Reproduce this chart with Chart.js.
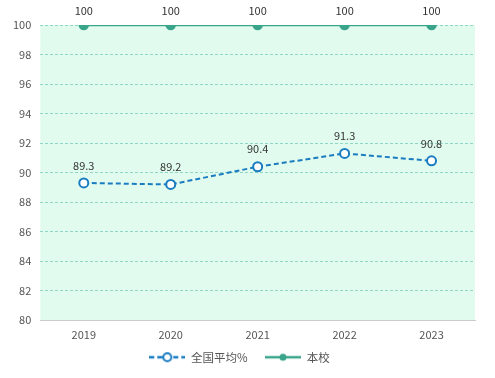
<!DOCTYPE html>
<html>
<head>
<meta charset="utf-8">
<script src="https://cdn.jsdelivr.net/npm/chart.js@4"></script>
<style>
  html, body { margin: 0; padding: 0; background: #fff; }
  #wrap { width: 495px; height: 378px; }
</style>
</head>
<body>
<div id="wrap"><canvas id="scoreChart" width="495" height="378"></canvas></div>
<script>
const years = ['2019', '2020', '2021', '2022', '2023'];
const nationalAvg = [89.3, 89.2, 90.4, 91.3, 90.8];
const school = [100, 100, 100, 100, 100];
const yTicks = [80, 82, 84, 86, 88, 90, 92, 94, 96, 98, 100];

const blue = '#1a7cc1';
const green = '#3aa58b';
const fontFamily = '"Noto Sans CJK SC", "Microsoft YaHei", sans-serif';

// legend icons: line with a point in the middle
function legendIcon(color, dashed, hollow) {
    const c = document.createElement('canvas');
    c.width = 36; c.height = 12;
    const g = c.getContext('2d');
    g.strokeStyle = color;
    g.lineWidth = 2.5;
    if (dashed) g.setLineDash([5, 3]);
    g.beginPath();
    g.moveTo(0, 6); g.lineTo(36, 6);
    g.stroke();
    g.setLineDash([]);
    g.beginPath();
    g.arc(18, 6, hollow ? 4 : 3.5, 0, Math.PI * 2);
    g.fillStyle = hollow ? '#fff' : color;
    g.fill();
    if (hollow) { g.lineWidth = 2; g.stroke(); }
    return c;
}

const areaBg = {
    id: 'areaBg',
    beforeDraw(chart) {
        const { ctx, chartArea: a } = chart;
        ctx.save();
        ctx.fillStyle = '#e1fcef';
        ctx.fillRect(a.left, a.top, a.right - a.left, a.bottom - a.top);
        ctx.restore();
    }
};

const labelGap = [12, 9];
const valueLabels = {
    id: 'valueLabels',
    afterDatasetsDraw(chart) {
        const ctx = chart.ctx;
        ctx.save();
        ctx.font = '11px ' + fontFamily;
        ctx.fillStyle = '#333';
        ctx.textAlign = 'center';
        ctx.textBaseline = 'bottom';
        chart.data.datasets.forEach((ds, i) => {
            chart.getDatasetMeta(i).data.forEach((pt, j) => {
                ctx.fillText(String(ds.data[j]), pt.x, pt.y - labelGap[i]);
            });
        });
        ctx.restore();
    }
};

new Chart(document.getElementById('scoreChart').getContext('2d'), {
    type: 'line',
    data: {
        labels: years,
        datasets: [{
            label: '全国平均%',
            data: nationalAvg,
            borderColor: blue,
            backgroundColor: '#fff',
            borderWidth: 2,
            borderDash: [5, 3],
            pointRadius: 4.5,
            pointBorderWidth: 2,
            pointBorderColor: blue,
            pointBackgroundColor: '#fff'
        }, {
            label: '本校',
            data: school,
            borderColor: green,
            backgroundColor: green,
            borderWidth: 2.5,
            pointRadius: 4,
            pointBackgroundColor: green,
            pointBorderColor: green
        }]
    },
    options: {
        responsive: false,
        animation: false,
        layout: { padding: { top: 25, right: 20, left: 4, bottom: 5 } },
        scales: {
            x: {
                offset: true,
                afterFit(axis) { axis.height += 3; },
                grid: { display: false },
                border: { display: true, color: '#cccccc', width: 1 },
                ticks: { color: '#555', font: { family: fontFamily, size: 11 }, padding: 0 }
            },
            y: {
                min: 80,
                max: 100,
                afterBuildTicks(axis) { axis.ticks = yTicks.map(v => ({ value: v })); },
                grid: {
                    color: ctx => ctx.tick && ctx.tick.value === 80 ? 'rgba(0,0,0,0)' : '#8fd6c4',
                    lineWidth: 1,
                    drawTicks: false
                },
                border: { display: false, dash: [3, 2] },
                ticks: { color: '#555', font: { family: fontFamily, size: 11 }, padding: 9 }
            }
        },
        plugins: {
            legend: {
                position: 'bottom',
                labels: {
                    usePointStyle: true,
                    pointStyleWidth: 36,
                    boxHeight: 12,
                    color: '#555',
                    font: { family: fontFamily, size: 11.5 },
                    padding: 7,
                    generateLabels(chart) {
                        return [
                            { text: '全国平均%    ', pointStyle: legendIcon(blue, true, true), datasetIndex: 0, fontColor: '#555' },
                            { text: '本校', pointStyle: legendIcon(green, false, false), datasetIndex: 1, fontColor: '#555' }
                        ];
                    }
                }
            },
            tooltip: { enabled: false }
        }
    },
    plugins: [areaBg, valueLabels]
});
</script>
</body>
</html>
